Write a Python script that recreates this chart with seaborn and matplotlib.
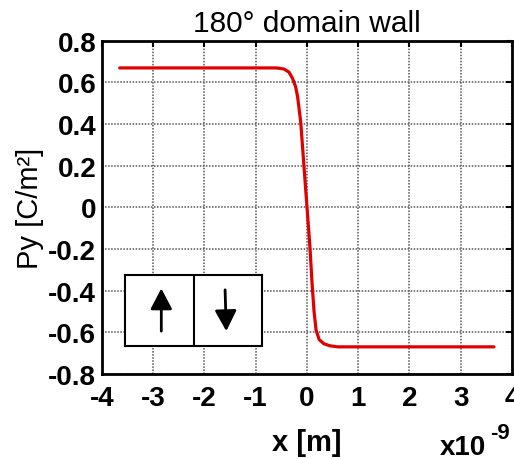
import matplotlib
matplotlib.use("Agg")
import matplotlib.pyplot as plt
import seaborn as sns
import pandas as pd

sns.set_theme(style="white")
plt.rcParams['font.family'] = ['Liberation Sans', 'DejaVu Sans']
plt.rcParams['text.color'] = 'black'
plt.rcParams['axes.labelcolor'] = 'black'

# data (x in units of 1e-9 m, Py in C/m^2)
x_nm = [-3.65, -2.0, -1.0, -0.6, -0.45, -0.35, -0.28, -0.22, -0.18, -0.12, -0.06,
        0.0, 0.06, 0.10, 0.14, 0.18, 0.24, 0.33, 0.45, 0.6, 1.0, 2.0, 3.65]
py = [0.67, 0.67, 0.67, 0.67, 0.665, 0.65, 0.62, 0.58, 0.53, 0.41, 0.21,
      0.01, -0.19, -0.36, -0.50, -0.59, -0.635, -0.655, -0.665, -0.67, -0.67, -0.67, -0.67]
x_ticks = [-4, -3, -2, -1, 0, 1, 2, 3, 4]
y_ticks = [-0.8, -0.6, -0.4, -0.2, 0, 0.2, 0.4, 0.6, 0.8]
y_tick_labels = ["-0.8", "-0.6", "-0.4", "-0.2", "0", "0.2", "0.4", "0.6", "0.8"]

df = pd.DataFrame({"x": x_nm, "Py": py})

fig = plt.figure(figsize=(5.14, 4.60), dpi=100)
ax = fig.add_axes([0.198, 0.185, 0.798, 0.724])
sns.lineplot(data=df, x="x", y="Py", ax=ax, color="#e00000", linewidth=2.3)

ax.set_xlim(-4, 4)
ax.set_ylim(-0.8, 0.8)
ax.set_xticks(x_ticks)
ax.set_xticklabels([str(t) for t in x_ticks])
ax.set_yticks(y_ticks)
ax.set_yticklabels(y_tick_labels)
ax.grid(True, color="#555555", linestyle=(0, (1, 1)), linewidth=1.1)
ax.tick_params(axis="both", which="both", direction="in", length=4, width=1.5,
               top=True, right=True, labelsize=20, colors="black")
ax.tick_params(axis="x", pad=8)
ax.tick_params(axis="y", pad=4)
for lab in ax.get_xticklabels() + ax.get_yticklabels():
    lab.set_fontweight("bold")
for sp in ax.spines.values():
    sp.set_color("black")
    sp.set_linewidth(2.0)

ax.set_title("180° domain wall", fontsize=21.5, pad=7, color="black")
ax.set_xlabel("x [m]", fontsize=21, fontweight="bold", va="center")
ax.xaxis.set_label_coords(0.5, -0.204)
ax.set_ylabel("Py [C/m²]", fontsize=21, va="center")
ax.yaxis.set_label_coords(-0.176, 0.5)
fig.text(440 / 514, 5 / 460, "x10", fontsize=20, fontweight="bold", va="baseline", ha="left")
fig.text(490 / 514, 21 / 460, "-9", fontsize=16, fontweight="bold", va="baseline", ha="left")

# inset with domain arrows
ins = fig.add_axes([125/514, (460-347)/460, (262-125)/514, (347-276)/460])
ins.set_xlim(0, 2)
ins.set_ylim(0, 1)
ins.set_xticks([])
ins.set_yticks([])
ins.set_facecolor("white")
for sp in ins.spines.values():
    sp.set_color("black")
    sp.set_linewidth(1.5)
ins.axvline(1.0, color="black", linewidth=1.5)
ins.annotate("", xy=(0.53, 0.85), xytext=(0.53, 0.17),
             arrowprops=dict(arrowstyle="-|>,head_width=0.55,head_length=1.05", color="black", lw=2))
ins.annotate("", xy=(1.48, 0.17), xytext=(1.46, 0.83),
             arrowprops=dict(arrowstyle="-|>,head_width=0.55,head_length=1.05", color="black", lw=2))

fig.savefig("out.png", dpi=100)
